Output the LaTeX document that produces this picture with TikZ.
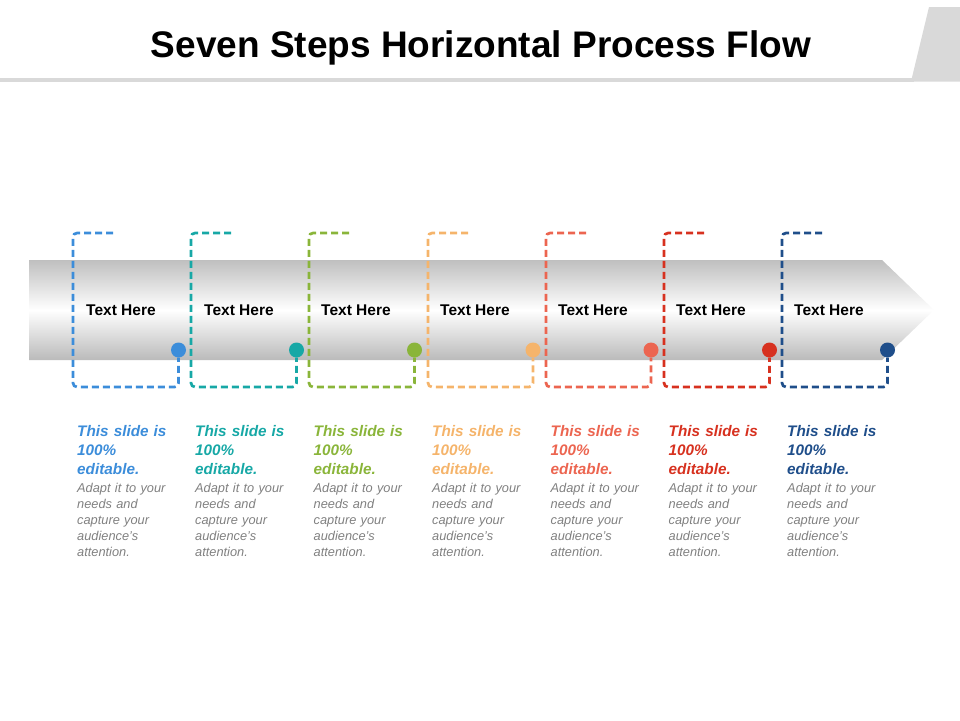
\documentclass[tikz,border=0pt]{standalone}
\usepackage{fontspec}
\setmainfont{Liberation Sans}
\usetikzlibrary{positioning}

\definecolor{cone}{HTML}{3C8DDA}
\definecolor{ctwo}{HTML}{17A8A6}
\definecolor{cthree}{HTML}{8AB53A}
\definecolor{cfour}{HTML}{F5B46B}
\definecolor{cfive}{HTML}{EC6550}
\definecolor{csix}{HTML}{D7311F}
\definecolor{cseven}{HTML}{1F4E8A}
\definecolor{bargray}{HTML}{D9D9D9}
\definecolor{bodygray}{HTML}{808080}

\begin{document}
\begin{tikzpicture}[x=1pt, y=-1pt,
		bracket/.style={draw=#1, line width=2.7pt, dash pattern=on 7pt off 4pt, rounded corners=4pt},
		dot/.style={circle, fill=#1, inner sep=0pt, minimum size=15pt},
		steptext/.style={anchor=west, inner sep=0pt, font=\fontsize{15.5}{18}\selectfont\bfseries},
		head/.style={anchor=north west, inner sep=0pt, text width=100pt, align=left, text=#1, font=\fontsize{15.3}{19}\selectfont\bfseries\itshape},
		body/.style={anchor=north west, inner sep=0pt, text width=100pt, align=left, text=bodygray, font=\fontsize{12.8}{16}\selectfont\itshape}]
	\useasboundingbox (0,0) rectangle (960,720);

	% title and bar
	\fill[bargray] (0,77.5) rectangle (914,81.5);
	\fill[bargray] (929,7) -- (960,7) -- (960,81.5) -- (911,81.5) -- cycle;
	\node (title) at (481,48) {\fontsize{37}{42}\selectfont\bfseries Seven Steps Horizontal Process Flow};

	% arrow band
	\shade[top color=black!25, bottom color=black!27, middle color=white] (29,260) -- (882,260) -- (934,310) -- (882,360) -- (29,360) -- cycle;

	% dots
	\node[dot=cone] (dot1) at (178.5,350) {};
	\node[dot=ctwo] (dot2) at (296.5,350) {};
	\node[dot=cthree] (dot3) at (414.5,350) {};
	\node[dot=cfour] (dot4) at (533,350) {};
	\node[dot=cfive] (dot5) at (651,350) {};
	\node[dot=csix] (dot6) at (769.5,350) {};
	\node[dot=cseven] (dot7) at (887.5,350) {};

	% dashed brackets
	\coordinate (top1) at (113,233);
	\coordinate (top2) at (231,233);
	\coordinate (top3) at (349,233);
	\coordinate (top4) at (468,233);
	\coordinate (top5) at (586,233);
	\coordinate (top6) at (704,233);
	\coordinate (top7) at (822,233);
	\draw[bracket=cone] (top1) -- ++(-40,0) -- ++(0,154) -| (dot1);
	\draw[bracket=ctwo] (top2) -- ++(-40,0) -- ++(0,154) -| (dot2);
	\draw[bracket=cthree] (top3) -- ++(-40,0) -- ++(0,154) -| (dot3);
	\draw[bracket=cfour] (top4) -- ++(-40,0) -- ++(0,154) -| (dot4);
	\draw[bracket=cfive] (top5) -- ++(-40,0) -- ++(0,154) -| (dot5);
	\draw[bracket=csix] (top6) -- ++(-40,0) -- ++(0,154) -| (dot6);
	\draw[bracket=cseven] (top7) -- ++(-40,0) -- ++(0,154) -| (dot7);

	% step labels
	\node[steptext] (lbl1) at (86,310) {Text Here};
	\node[steptext] (lbl2) at (204,310) {Text Here};
	\node[steptext] (lbl3) at (321,310) {Text Here};
	\node[steptext] (lbl4) at (440,310) {Text Here};
	\node[steptext] (lbl5) at (558,310) {Text Here};
	\node[steptext] (lbl6) at (676,310) {Text Here};
	\node[steptext] (lbl7) at (794,310) {Text Here};

	% descriptions
	\node[head=cone] (head1) at (77,425) {This slide is\\100\%\\editable.};
	\node[head=ctwo] (head2) at (195,425) {This slide is\\100\%\\editable.};
	\node[head=cthree] (head3) at (313.5,425) {This slide is\\100\%\\editable.};
	\node[head=cfour] (head4) at (432,425) {This slide is\\100\%\\editable.};
	\node[head=cfive] (head5) at (550.5,425) {This slide is\\100\%\\editable.};
	\node[head=csix] (head6) at (668.5,425) {This slide is\\100\%\\editable.};
	\node[head=cseven] (head7) at (787,425) {This slide is\\100\%\\editable.};

	\node[body, below=8.5pt of head1.south west, anchor=north west] (body1) {Adapt it to your\\needs and\\capture your\\audience's\\attention.};
	\node[body, below=8.5pt of head2.south west, anchor=north west] (body2) {Adapt it to your\\needs and\\capture your\\audience's\\attention.};
	\node[body, below=8.5pt of head3.south west, anchor=north west] (body3) {Adapt it to your\\needs and\\capture your\\audience's\\attention.};
	\node[body, below=8.5pt of head4.south west, anchor=north west] (body4) {Adapt it to your\\needs and\\capture your\\audience's\\attention.};
	\node[body, below=8.5pt of head5.south west, anchor=north west] (body5) {Adapt it to your\\needs and\\capture your\\audience's\\attention.};
	\node[body, below=8.5pt of head6.south west, anchor=north west] (body6) {Adapt it to your\\needs and\\capture your\\audience's\\attention.};
	\node[body, below=8.5pt of head7.south west, anchor=north west] (body7) {Adapt it to your\\needs and\\capture your\\audience's\\attention.};
\end{tikzpicture}
\end{document}
